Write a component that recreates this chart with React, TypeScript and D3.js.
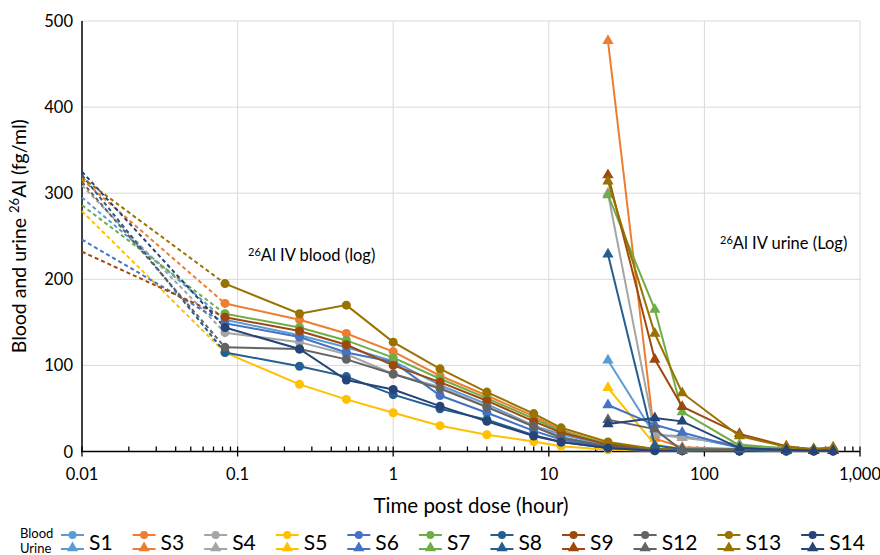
import React, { useEffect, useRef } from 'react'
import * as d3 from 'd3'

// subjects and Excel palette
const subjects = ['S1', 'S3', 'S4', 'S5', 'S6', 'S7', 'S8', 'S9', 'S12', 'S13', 'S14']
const colors = ['#5B9BD5', '#ED7D31', '#A5A5A5', '#FFC000', '#4472C4', '#70AD47', '#255E91', '#9E480E', '#636363', '#997300', '#264478']

// blood: dashed start at t=0.01 then measured points (hours)
const startTime = 0.01
const bloodStart = [295, 316, 309, 279, 246, 286, 321, 232, 313, 318, 325]
const bloodTimes = [0.083, 0.25, 0.5, 1, 2, 4, 8, 12, 24, 48, 72, 168, 336, 504, 672]
const blood = [
  [153, 135, 121, 105, 77, 55, 30, 20, 7, 2, 1.5, 1, 1, 1, 1],
  [172, 153, 137, 116, 88, 65, 41, 25, 8, 3, 2, 1, 1, 1, 1],
  [138, 127, 113, 90, 75, 52, 30, 17, 6, 2, 1.5, 1, 1, 1, 1],
  [115, 78, 60.5, 45, 30, 19.5, 11.6, 6, 2, 1, 0.5, 0.5, 0.5, 0.5, 0.5],
  [149, 133, 115, 104, 65, 45, 24, 14, 5, 1.5, 1, 1, 1, 1, 1],
  [160, 144, 129, 109, 84.5, 62, 38, 23.6, 9, 3, 2, 1, 1, 1, 1],
  [115, 99, 87, 66, 49.6, 37, 19, 11, 4, 1, 1, 0.5, 0.5, 0.5, 0.5],
  [156, 140, 124, 100, 80.6, 59, 35, 22, 8, 3, 2, 1, 1, 1, 1],
  [121, 119, 107, 90, 73, 51.5, 29, 16, 6, 2, 1, 1, 1, 1, 1],
  [195, 160, 170, 127, 96, 69, 44, 27.5, 11, 3, 2, 1.5, 1, 1, 1],
  [144, 119, 83, 72, 52.7, 35, 18, 11, 4, 1, 1, 0.5, 0.5, 0.5, 0.5],
]

// urine
const urineTimes = [24, 48, 72, 168, 336, 504, 672]
const urine = [
  [106, 19, 18, 5, 2, 1, 1],
  [477, 15, 5, 3, 2, 1, 1],
  [300, 20, 16, 8.5, 3, 2, 2],
  [74, 8, 3, 2, 1, 1, 1],
  [54, 31, 22, 4, 2, 1, 1],
  [298, 165, 46, 7, 4, 3, 4],
  [229, 7, 3, 2, 1, 1, 1],
  [321, 107, 52, 20.5, 6, 2, 3],
  [37, 26, 1, 3, 2, 1, 1],
  [314, 137, 68, 18, 5.5, 3, 5],
  [32, 39, 35, 4, 2, 1, 1],
]

const xTicks = [0.01, 0.1, 1, 10, 100, 1000]
const yTicks = [0, 100, 200, 300, 400, 500]

const FONT = "Lato, 'Open Sans', sans-serif"

const App = () => {
  const svgRef = useRef<SVGSVGElement>(null)

  useEffect(() => {
    const width = 880
    const height = 555
    const svg = d3.select(svgRef.current).attr('width', width).attr('height', height)
    svg.selectAll('*').remove()

    const x = d3.scaleLog().domain([0.01, 1000]).range([82, 860])
    const y = d3.scaleLinear().domain([0, 500]).range([451.5, 21])

    // gridlines
    const grid = svg.append('g').attr('stroke', '#D9D9D9').attr('stroke-width', 1)
    yTicks.slice(1).forEach((v) => {
      grid.append('line').attr('x1', x(0.01)).attr('x2', x(1000)).attr('y1', y(v)).attr('y2', y(v))
    })
    xTicks.slice(1).forEach((v) => {
      grid.append('line').attr('x1', x(v)).attr('x2', x(v)).attr('y1', y(0)).attr('y2', y(500))
    })

    // axes lines
    svg.append('line').attr('x1', x(0.01)).attr('x2', x(0.01)).attr('y1', y(0)).attr('y2', y(500))
      .attr('stroke', '#000').attr('stroke-width', 1.5)
    svg.append('line').attr('x1', x(0.01) - 1).attr('x2', x(1000)).attr('y1', y(0)).attr('y2', y(0))
      .attr('stroke', '#000').attr('stroke-width', 1.5)

    // minor and major x ticks
    const ticks = svg.append('g').attr('stroke', '#000').attr('stroke-width', 1.3)
    xTicks.slice(0, -1).forEach((d) => {
      for (let k = 2; k <= 9; k++) {
        ticks.append('line').attr('x1', x(d * k)).attr('x2', x(d * k)).attr('y1', y(0) - 5).attr('y2', y(0))
      }
    })
    xTicks.forEach((v) => {
      ticks.append('line').attr('x1', x(v)).attr('x2', x(v)).attr('y1', y(0) - 5).attr('y2', y(0) + 5)
    })

    // tick labels
    svg.append('g').selectAll('text').data(xTicks).enter().append('text')
      .attr('x', (d) => x(d)).attr('y', 480).attr('text-anchor', 'middle')
      .style('font-family', FONT).style('font-size', '16.5px').attr('fill', '#000')
      .text((d) => d3.format(',')(d))
    svg.append('g').selectAll('text').data(yTicks).enter().append('text')
      .attr('x', 73).attr('y', (d) => y(d) + 6).attr('text-anchor', 'end')
      .style('font-family', FONT).style('font-size', '16.5px').attr('fill', '#000')
      .text((d) => d)

    // axis titles
    svg.append('text').attr('x', (x(0.01) + x(1000)) / 2).attr('y', 513).attr('text-anchor', 'middle')
      .style('font-family', FONT).style('font-size', '20.5px').text('Time post dose (hour)')
    const yt = svg.append('text').attr('transform', `translate(26, ${(y(0) + y(500)) / 2}) rotate(-90)`)
      .attr('text-anchor', 'middle').style('font-family', FONT).style('font-size', '19.5px')
    yt.append('tspan').text('Blood and urine  ')
    yt.append('tspan').attr('font-size', '13px').attr('dy', -7).text('26')
    yt.append('tspan').attr('dy', 7).text('Al (fg/ml)')

    // annotations
    const note = (px: number, py: number, label: string) => {
      const t = svg.append('text').attr('x', px).attr('y', py)
        .style('font-family', FONT).style('font-size', '16.5px')
      t.append('tspan').attr('font-size', '11px').attr('dy', -5).text('26')
      t.append('tspan').attr('dy', 5).text(label)
    }
    note(248, 261, 'Al IV blood (log)')
    note(720, 249, 'Al IV urine (Log)')

    const line = d3.line<[number, number]>().x((d) => x(d[0])).y((d) => y(d[1]))
    const tri = d3.symbol().type(d3.symbolTriangle).size(55)

    // dashed start segments
    subjects.forEach((s, i) => {
      svg.append('path').attr('d', line([[startTime, bloodStart[i]], [bloodTimes[0], blood[i][0]]]))
        .attr('fill', 'none').attr('stroke', colors[i]).attr('stroke-width', 2).attr('stroke-dasharray', '4,3')
    })

    // blood series
    subjects.forEach((s, i) => {
      const pts = bloodTimes.map((t, j) => [t, blood[i][j]] as [number, number])
      const g = svg.append('g')
      g.append('path').attr('d', line(pts)).attr('fill', 'none').attr('stroke', colors[i]).attr('stroke-width', 2)
      g.selectAll('circle').data(pts).enter().append('circle')
        .attr('cx', (d) => x(d[0])).attr('cy', (d) => y(d[1])).attr('r', 4.5).attr('fill', colors[i])
    })

    // urine series
    subjects.forEach((s, i) => {
      const pts = urineTimes.map((t, j) => [t, urine[i][j]] as [number, number])
      const g = svg.append('g')
      g.append('path').attr('d', line(pts)).attr('fill', 'none').attr('stroke', colors[i]).attr('stroke-width', 2)
      g.selectAll('path.m').data(pts).enter().append('path').attr('class', 'm')
        .attr('d', tri).attr('transform', (d) => `translate(${x(d[0])},${y(d[1])})`).attr('fill', colors[i])
    })

    // legend
    const leg = svg.append('g').style('font-family', FONT)
    leg.append('text').attr('x', 20).attr('y', 538).style('font-size', '13px').text('Blood')
    leg.append('text').attr('x', 20).attr('y', 553).style('font-size', '13px').text('Urine')
    let lx = 61
    subjects.forEach((s, i) => {
      const e = leg.append('g').attr('transform', `translate(${lx},0)`)
      e.append('line').attr('x1', 0).attr('x2', 23).attr('y1', 535).attr('y2', 535).attr('stroke', colors[i]).attr('stroke-width', 2)
      e.append('circle').attr('cx', 11.5).attr('cy', 535).attr('r', 4).attr('fill', colors[i])
      e.append('line').attr('x1', 0).attr('x2', 23).attr('y1', 549).attr('y2', 549).attr('stroke', colors[i]).attr('stroke-width', 2)
      e.append('path').attr('d', tri).attr('transform', 'translate(11.5,548)').attr('fill', colors[i])
      const t = e.append('text').attr('x', 28).attr('y', 550).style('font-size', '21px').text(s)
      const w = (t.node() as SVGTextElement).getComputedTextLength()
      lx += 28 + w + 20
    })
  }, [])

  return <svg ref={svgRef} style={{ position: 'absolute', left: 0, top: 0 }}></svg>
}

export default App
